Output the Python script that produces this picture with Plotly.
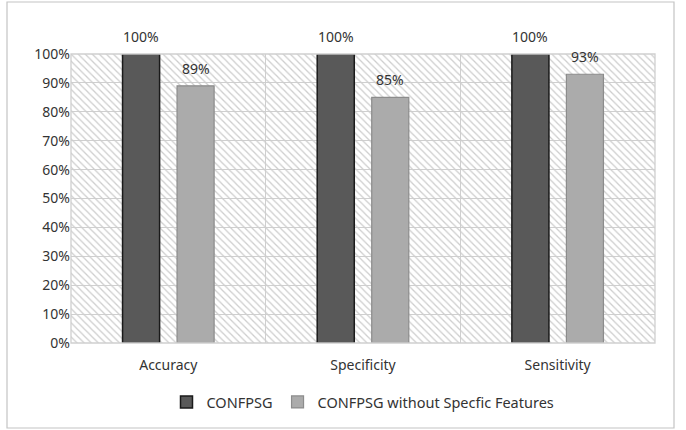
import plotly.graph_objects as go

categories = ["Accuracy", "Specificity", "Sensitivity"]
confpsg = [1.00, 1.00, 1.00]
without_features = [0.89, 0.85, 0.93]
series_names = ["CONFPSG", "CONFPSG without Specfic Features"]
y_ticks = [0, 0.1, 0.2, 0.3, 0.4, 0.5, 0.6, 0.7, 0.8, 0.9, 1.0]

font_family = "Noto Sans, Open Sans, sans-serif"
txt = "#333333"

W, H = 686, 430
L, R, T, B = 71, 31, 54, 87
BARGAP, GROUPGAP = 0.44, 0.32
pw, ph = W - L - R, H - T - B

fig = go.Figure()

# hatched plot-area background
fig.add_trace(go.Bar(
    x=[0], y=[1], width=[1], xaxis="x", yaxis="y",
    marker=dict(color="#cdcdcd", line=dict(width=0),
                pattern=dict(shape="\\", fillmode="replace", bgcolor="rgba(0,0,0,0)",
                             fgcolor="#cdcdcd", size=5, solidity=0.25)),
    showlegend=False, hoverinfo="skip",
))

fig.add_trace(go.Bar(
    x=categories, y=confpsg, name=series_names[0], xaxis="x2", yaxis="y",
    marker=dict(color="#595959", line=dict(color="#1a1a1a", width=1.5)),
))
fig.add_trace(go.Bar(
    x=categories, y=without_features, name=series_names[1], xaxis="x2", yaxis="y",
    marker=dict(color="#ababab", line=dict(color="#8c8c8c", width=1.2)),
))

# value labels above bars
slot = pw / len(categories) * (1 - BARGAP) / 2
annotations = []
for vals, sign in ((confpsg, -1), (without_features, 1)):
    for c, v in zip(categories, vals):
        annotations.append(dict(
            x=c, y=v, xref="x2", yref="y", text=f"{v*100:.0f}%",
            showarrow=False, yanchor="bottom", xshift=sign * slot / 2, yshift=6,
            font=dict(size=14, color=txt)))

fig.update_layout(
    width=W, height=H,
    margin=dict(l=L, r=R, t=T, b=B, autoexpand=False),
    paper_bgcolor="white", plot_bgcolor="white",
    font=dict(family=font_family, size=14, color=txt),
    barmode="group", bargap=BARGAP, bargroupgap=GROUPGAP,
    xaxis=dict(range=[-0.5, 0.5], visible=False, showgrid=False, fixedrange=True,
               automargin=False),
    xaxis2=dict(overlaying="x", side="bottom", type="category", automargin=False,
                showgrid=True, gridcolor="#cfcfcf", gridwidth=1.3, tickson="boundaries",
                ticks="", showline=False, tickfont=dict(size=14, color=txt),
                ticklabelstandoff=12, range=[-0.5, 2.5]),
    yaxis=dict(range=[0, 1.0], tickvals=y_ticks, tickformat=".0%", automargin=False,
               showgrid=True, gridcolor="#cfcfcf", gridwidth=1.3,
               zeroline=False, showline=False, ticks="",
               tickfont=dict(size=14, color=txt), ticksuffix=" "),
    legend=dict(orientation="h", x=0.5, xanchor="center", y=-43 / ph, yanchor="top",
                font=dict(size=14.5, color=txt), itemwidth=30, traceorder="normal"),
    annotations=annotations,
    shapes=[
        dict(type="rect", xref="paper", yref="paper", x0=0, x1=1, y0=0, y1=1,
             line=dict(color="#cfcfcf", width=1.3), fillcolor="rgba(0,0,0,0)", layer="above"),
        dict(type="rect", xref="paper", yref="paper", x0=(7 - L) / pw, x1=(674 - L) / pw,
             y0=(T + ph - 428) / ph, y1=(T + ph - 2) / ph,
             line=dict(color="#c4c4c4", width=1.2), fillcolor="rgba(0,0,0,0)"),
    ],
)

fig.write_html("out.html", config={"displayModeBar": False},
               post_script="document.body.style.margin='0';")
